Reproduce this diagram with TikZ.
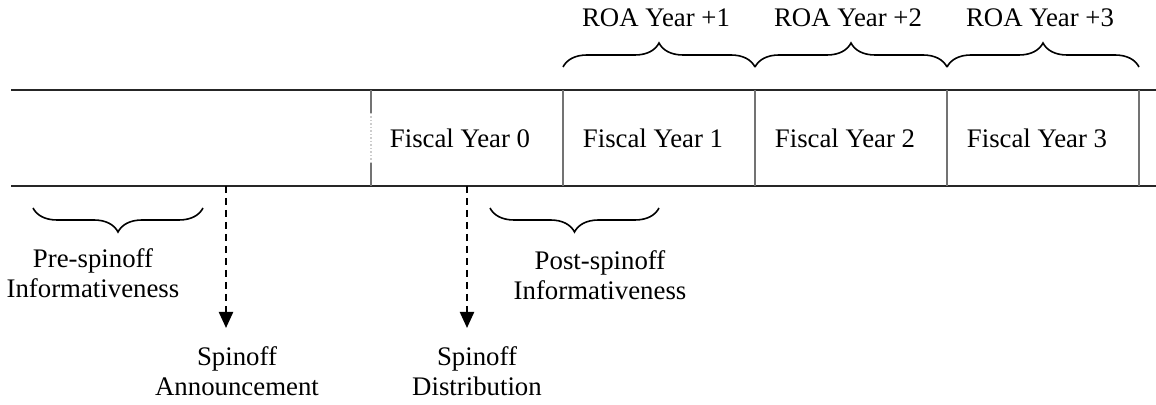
\documentclass[tikz,border=0pt]{standalone}
\usepackage{fontspec}
\setmainfont{Liberation Serif}
\usetikzlibrary{decorations.pathreplacing,arrows.meta}
\begin{document}
\begin{tikzpicture}[x=.5pt, y=-.5pt, >={Triangle[length=8pt,width=7pt]},
  font=\fontsize{13.4}{15}\selectfont,
  timeline/.style={black!85, line width=.75pt},
  yearline/.style={black!55, line width=.75pt},
  roabrace/.style={decorate, decoration={brace, amplitude=12pt}, line width=.8pt},
  infobrace/.style={decorate, decoration={brace, mirror, amplitude=12pt}, line width=.8pt},
  eventarrow/.style={->, line width=1.1pt, dash pattern=on 3.5pt off 2.5pt},
  label/.style={align=center, anchor=base, inner sep=0pt}]
\useasboundingbox (0,0) rectangle (1156,405);
% time line
\coordinate (tl) at (11,90);
\coordinate (tr) at (1156,90);
\coordinate (bl) at (11,186);
\coordinate (br) at (1156,186);
\draw[timeline] (tl) -- (tr);
\draw[timeline] (bl) -- (br);
% fiscal year cells
\draw[yearline] (371,90) -- (371,113);
\draw[yearline, black!20, densely dotted] (371,113) -- (371,163);
\draw[yearline] (371,163) -- (371,186);
\foreach \x in {563,755,947,1139}
  \draw[yearline] (\x,90) -- (\x,186);
\foreach \n/\x in {0/460,1/653,2/845,3/1037}
  \node[label] (fy\n) at (\x,148) {Fiscal Year \n};
% ROA braces
\foreach \n/\a/\b in {1/563/755,2/755/947,3/947/1139}{
  \draw[roabrace] (\a,67) -- (\b,67);
  \node[label] (roa\n) at ({(\a+\b)/2-3},27) {ROA Year +\n};
}
% informativeness windows
\draw[infobrace] (33,208) -- (203,208);
\node[label] (pre) at (93,298) {Pre-spinoff\\Informativeness};
\draw[infobrace] (490,208) -- (659,208);
\node[label] (post) at (600,300) {Post-spinoff\\Informativeness};
% spinoff events
\coordinate (ann0) at (226,186);
\coordinate (ann1) at (226,328);
\coordinate (dis0) at (467,186);
\coordinate (dis1) at (467,328);
\draw[eventarrow] (ann0) -- (ann1);
\draw[eventarrow] (dis0) -- (dis1);
\node[label] (ann) at (237,395) {Spinoff\\Announcement};
\node[label] (dis) at (477,395) {Spinoff\\Distribution};
\end{tikzpicture}
\end{document}
